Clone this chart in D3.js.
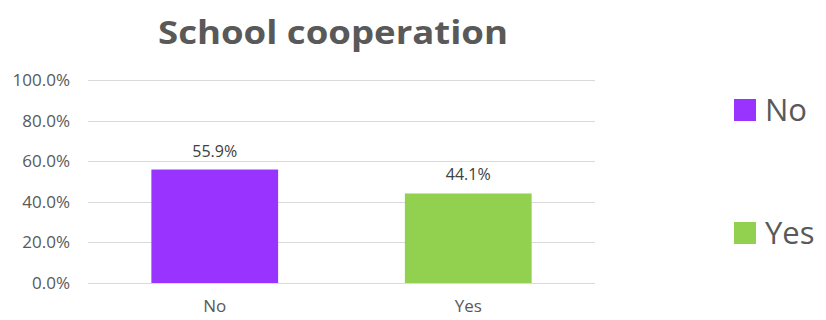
<!DOCTYPE html>
<html>
<head>
<meta charset="utf-8">
<script src="https://cdn.jsdelivr.net/npm/d3@7"></script>
<style>
  html, body { margin: 0; padding: 0; background: #fff; }
  svg { display: block; font-family: "Open Sans", "Noto Sans", sans-serif; }
</style>
</head>
<body>
<svg id="chart" width="826" height="320"></svg>
<script>
const categories = ["No", "Yes"];
const values = [55.9, 44.1];
const colors = ["#9933FF", "#92D050"];
const yTicks = [0, 20, 40, 60, 80, 100];
const titleText = "School cooperation";

const svg = d3.select("#chart");
const margin = { left: 88, right: 231, top: 80, bottom: 37 };
const W = 826, H = 320;

const x = d3.scaleBand()
  .domain(categories)
  .range([margin.left, W - margin.right])
  .paddingInner(0.5)
  .paddingOuter(0.25);

const y = d3.scaleLinear()
  .domain([0, 100])
  .range([H - margin.bottom, margin.top]);

// title
svg.append("text")
  .attr("x", 333)
  .attr("y", 44)
  .attr("text-anchor", "middle")
  .attr("font-size", 32)
  .attr("font-weight", "bold")
  .attr("fill", "#595959")
  .attr("textLength", 350)
  .attr("lengthAdjust", "spacingAndGlyphs")
  .text(titleText);

// gridlines
svg.append("g")
  .selectAll("line")
  .data(yTicks)
  .join("line")
  .attr("x1", margin.left)
  .attr("x2", W - margin.right)
  .attr("y1", d => Math.round(y(d)) + 0.5)
  .attr("y2", d => Math.round(y(d)) + 0.5)
  .attr("stroke", "#d9d9d9")
  .attr("stroke-width", 1);

// y axis labels
const yAxis = d3.axisLeft(y)
  .tickValues(yTicks)
  .tickSize(0)
  .tickPadding(0)
  .tickFormat(d => d.toFixed(1) + "%");
const gy = svg.append("g")
  .attr("transform", `translate(${70},0)`)
  .call(yAxis);
gy.select(".domain").remove();
gy.selectAll("text")
  .attr("font-size", 17)
  .attr("fill", "#595959")
  .attr("font-family", "'Open Sans', sans-serif");

// bars
svg.append("g")
  .selectAll("rect")
  .data(values)
  .join("rect")
  .attr("x", (d, i) => x(categories[i]))
  .attr("width", x.bandwidth())
  .attr("y", d => y(d))
  .attr("height", d => y(0) - y(d))
  .attr("fill", (d, i) => colors[i]);

// value labels
svg.append("g")
  .selectAll("text")
  .data(values)
  .join("text")
  .attr("x", (d, i) => x(categories[i]) + x.bandwidth() / 2)
  .attr("y", d => y(d) - 13)
  .attr("text-anchor", "middle")
  .attr("font-size", 16)
  .attr("fill", "#404040")
  .text(d => d.toFixed(1) + "%");

// x axis labels
const xAxis = d3.axisBottom(x).tickSize(0).tickPadding(0);
const gx = svg.append("g")
  .attr("transform", `translate(0,${y(0) + 17})`)
  .call(xAxis);
gx.select(".domain").remove();
gx.selectAll("text")
  .attr("font-size", 17)
  .attr("fill", "#595959")
  .attr("font-family", "'Open Sans', sans-serif");

// legend
const legend = svg.append("g");
const legendTop = [99, 222];
categories.forEach((c, i) => {
  legend.append("rect")
    .attr("x", 734)
    .attr("y", legendTop[i])
    .attr("width", 22)
    .attr("height", 22)
    .attr("fill", colors[i]);
  legend.append("text")
    .attr("x", 765)
    .attr("y", legendTop[i] + 22)
    .attr("font-size", 31)
    .attr("fill", "#595959")
    .text(c);
});
</script>
</body>
</html>
